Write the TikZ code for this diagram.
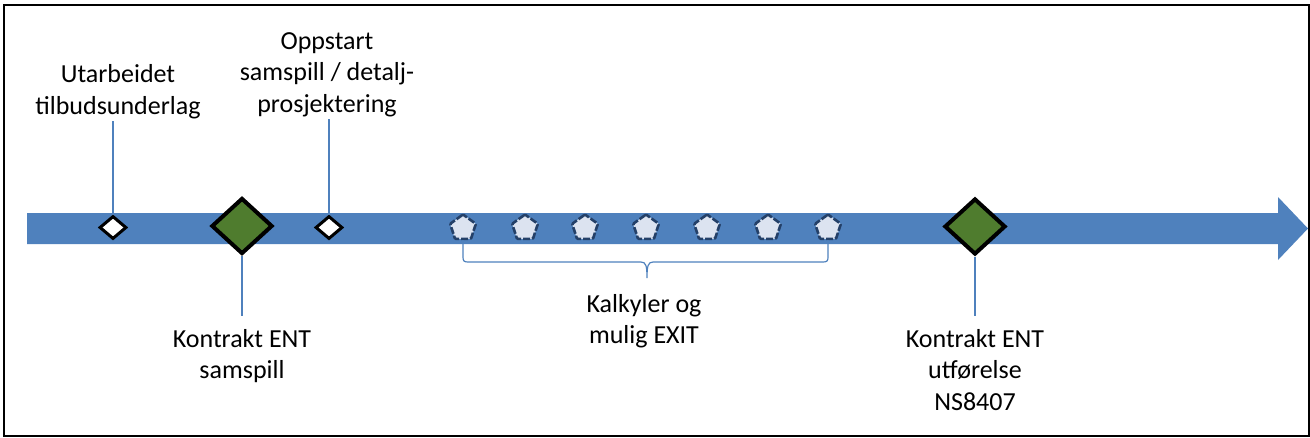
\documentclass[tikz,border=0pt]{standalone}
\usepackage{fontspec}
\setmainfont{Carlito}
\usepackage{tikz}
\usetikzlibrary{shapes.geometric}
\definecolor{bandblue}{RGB}{79,129,189}
\definecolor{darkblue}{RGB}{36,64,104}
\definecolor{paleblue}{RGB}{220,227,240}
\definecolor{milegreen}{RGB}{79,124,46}

\begin{document}
\begin{tikzpicture}[x=1pt, y=-1pt]
    \tikzstyle{bigmile} = [diamond, draw=black, line width=4pt, fill=milegreen, minimum width=61pt, minimum height=56pt, inner sep=0pt]
    \tikzstyle{smallmile} = [diamond, draw=black, line width=3pt, fill=white, minimum width=27pt, minimum height=23pt, inner sep=0pt]
    \tikzstyle{calc} = [regular polygon, regular polygon sides=5, minimum size=27pt, inner sep=0pt, fill=paleblue, draw=darkblue, line width=2.6pt, dash pattern=on 7pt off 2pt, rounded corners=1pt]
    \tikzstyle{label} = [align=center, inner sep=2pt, font=\fontsize{26}{31.5}\selectfont]
    \tikzstyle{stem} = [draw=bandblue, line width=1.2pt]

    \useasboundingbox (0,0) rectangle (1310,437);
    \draw[line width=2pt] (4,5) rectangle (1309,436);

    % Time line
    \fill[bandblue] (27,213) -- (1278,213) -- (1278,197) -- (1308,228.5)
        -- (1278,260) -- (1278,244) -- (27,244) -- cycle;

    % Milestones
    \node [smallmile] (tilbud) at (113,227.5) {};
    \node [bigmile] (kontraktA) at (242,226) {};
    \node [smallmile] (oppstart) at (329,227.5) {};
    \node [bigmile] (kontraktB) at (975,226.5) {};

    % Calculations
    \foreach \i/\x in {1/463, 2/525, 3/585, 4/646, 5/707, 6/768, 7/828}
        \node [calc] (calc\i) at (\x,228) {};

    % Labels
    \node [label, anchor=south] (tilbudtxt) at (118,121) {Utarbeidet\\tilbudsunderlag};
    \node [label, anchor=south] (oppstarttxt) at (327,119) {Oppstart\\samspill / detalj-\\prosjektering};
    \node [label, anchor=north] (kontraktAtxt) at (242,327) {Kontrakt ENT\\samspill};
    \node [label, anchor=north] (kontraktBtxt) at (975,327) {Kontrakt ENT\\utførelse\\NS8407};

    % Stems
    \draw [stem] (tilbud.north) -- (tilbud.north |- tilbudtxt.south);
    \draw [stem] (oppstart.north) -- (oppstart.north |- oppstarttxt.south);
    \draw [stem, shorten >=11pt] (kontraktA.south) -- (kontraktA.south |- kontraktAtxt.north);
    \draw [stem, shorten >=11pt] (kontraktB.south) -- (kontraktB.south |- kontraktBtxt.north);

    % Bracket under the calculations
    \coordinate (bracetip) at (647,278);
    \draw [stem] (calc1.south) -- (463,257) .. controls (463,261) and (464,262) .. (468,262)
        -- (641,262) .. controls (646,262) and (647,266) .. (bracetip)
        .. controls (647,266) and (648,262) .. (653,262) -- (823,262)
        .. controls (827,262) and (828,261) .. (828,257) -- (calc7.south);
    \node [label, anchor=north] (kalktxt) at (644,292) {Kalkyler og\\mulig EXIT};
\end{tikzpicture}
\end{document}
